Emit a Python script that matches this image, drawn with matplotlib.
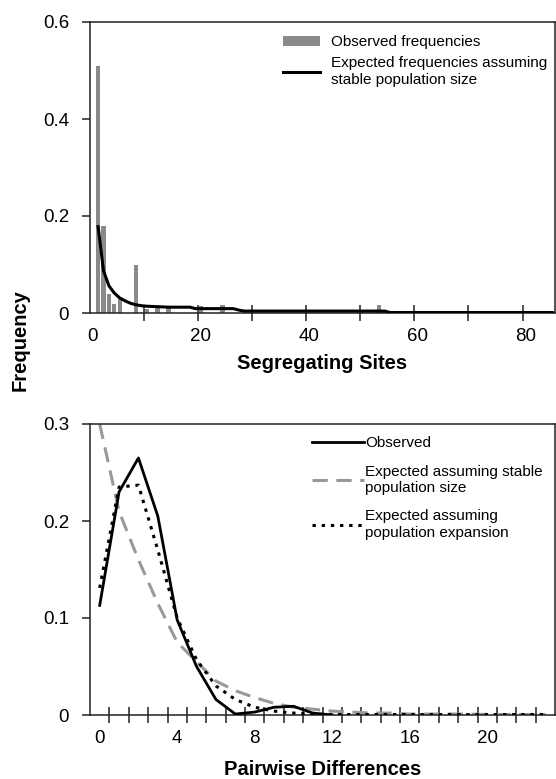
import numpy as np
import matplotlib
matplotlib.use("Agg")
import matplotlib.pyplot as plt
from matplotlib.ticker import FixedLocator, FixedFormatter

plt.rcParams['font.family'] = ['Liberation Sans', 'DejaVu Sans']

# ---------------- data: segregating sites ----------------
seg_obs_x = [1, 2, 3, 4, 5, 8, 10, 12, 14, 20, 24, 53]
seg_obs_y = [0.51, 0.18, 0.04, 0.018, 0.032, 0.10, 0.008, 0.012, 0.012, 0.015, 0.017, 0.017]

seg_exp_x = [1, 2, 3, 4, 5, 6, 7, 8, 9, 10, 12, 14, 16, 18, 19, 26, 27, 28, 54, 55, 85]
seg_exp_y = [0.178, 0.087, 0.056, 0.041, 0.031, 0.025, 0.020, 0.017, 0.015, 0.014,
             0.013, 0.012, 0.012, 0.012, 0.009, 0.009, 0.006, 0.004, 0.004, 0.001, 0.001]

seg_ticklabels = ["0", "20", "40", "60", "80"]

# ---------------- data: pairwise differences ----------------
pw_obs_x = [0, 1, 2, 3, 4, 5, 6, 7, 8, 9, 10, 11, 12]
pw_obs_y = [0.113, 0.230, 0.265, 0.205, 0.098, 0.050, 0.016, 0.001, 0.003, 0.008, 0.009, 0.002, 0.0]

pw_stable_x = list(range(0, 24))
pw_stable_y = [0.300, 0.210, 0.160, 0.115, 0.075, 0.055, 0.035, 0.025, 0.018, 0.012,
               0.008, 0.006, 0.004, 0.003, 0.002, 0.002, 0.001, 0.001, 0.001, 0.001,
               0.0005, 0.0005, 0.0005, 0.0005]

pw_exp_x = list(range(0, 24))
pw_exp_y = [0.131, 0.235, 0.237, 0.170, 0.100, 0.057, 0.030, 0.016, 0.008, 0.004,
            0.002, 0.001, 0.0005, 0.0005, 0.0005, 0.0005, 0.0005, 0.0005, 0.0005,
            0.0005, 0.0005, 0.0005, 0.0005, 0.0005]

pw_ticklabels = ["0", "4", "8", "12", "16", "20"]

# ---------------- figure ----------------
W, H = 556, 779
fig = plt.figure(figsize=(W / 100, H / 100), dpi=100)

def px_axes(left, top, right, bottom):
    return fig.add_axes([left / W, 1 - bottom / H, (right - left) / W, (bottom - top) / H])

ax1 = px_axes(90, 22, 555, 313)
ax2 = px_axes(90, 424, 555, 715)

grey_bar = "#8a8a8a"
grey_line = "#999999"

def style(ax):
    for s in ax.spines.values():
        s.set_linewidth(1.1)
        s.set_color("#222222")
    ax.tick_params(axis='y', direction='out', length=6, width=1.1, pad=9,
                   labelsize=13.5, color="#222222")
    ax.tick_params(axis='x', which='major', length=0, pad=11, labelsize=13.5)
    ax.tick_params(axis='x', which='minor', direction='inout', length=11, width=1.1,
                   color="#222222")

# top panel
ax1.bar(seg_obs_x, seg_obs_y, width=0.8, color=grey_bar, label="Observed frequencies",
        zorder=2)
ax1.plot(seg_exp_x, seg_exp_y, color="black", lw=2.2, solid_joinstyle='round',
         label="Expected frequencies assuming\nstable population size", zorder=3)
ax1.set_xlim(-0.5, 85.5)
ax1.set_ylim(0, 0.6)
ax1.set_yticks([0, 0.2, 0.4, 0.6])
ax1.set_yticklabels(["0", "0.2", "0.4", "0.6"])
ax1.xaxis.set_major_locator(FixedLocator([0, 20, 40, 60, 80]))
ax1.xaxis.set_major_formatter(FixedFormatter(seg_ticklabels))
ax1.xaxis.set_minor_locator(FixedLocator([9.5 + 10 * i for i in range(8)]))
style(ax1)
ax1.set_xlabel("Segregating Sites", fontsize=14.5, fontweight='bold', labelpad=6)
h1, l1 = ax1.get_legend_handles_labels()
ax1.legend([h1[1], h1[0]], [l1[1], l1[0]], loc='upper right',
           bbox_to_anchor=(1.0, 0.98), frameon=False,
           fontsize=11, handlelength=2.4, handleheight=0.55, handletextpad=0.75,
           labelspacing=0.45, borderaxespad=0.1)

# bottom panel
ax2.plot(pw_stable_x, pw_stable_y, color=grey_line, lw=2.2, dashes=(5.0, 2.8),
         label="Expected assuming stable\npopulation size", zorder=2)
ax2.plot(pw_exp_x, pw_exp_y, color="black", lw=2.2, dashes=(1.1, 1.9),
         label="Expected assuming\npopulation expansion", zorder=3)
ax2.plot(pw_obs_x, pw_obs_y, color="black", lw=2.0, label="Observed", zorder=4)
ax2.set_xlim(-0.5, 23.5)
ax2.set_ylim(0, 0.3)
ax2.set_yticks([0, 0.1, 0.2, 0.3])
ax2.set_yticklabels(["0", "0.1", "0.2", "0.3"])
ax2.xaxis.set_major_locator(FixedLocator([0, 4, 8, 12, 16, 20]))
ax2.xaxis.set_major_formatter(FixedFormatter(pw_ticklabels))
ax2.xaxis.set_minor_locator(FixedLocator([0.5 + i for i in range(23)]))
style(ax2)
ax2.set_xlabel("Pairwise Differences", fontsize=14.5, fontweight='bold', labelpad=9)
handles, labels = ax2.get_legend_handles_labels()
order = [2, 0, 1]
ax2.legend([handles[i] for i in order], [labels[i] for i in order],
           loc='upper right', bbox_to_anchor=(1.0, 1.0), frameon=False,
           fontsize=11, handlelength=3.4, handletextpad=0.1,
           labelspacing=0.95, borderaxespad=0.4)

fig.text(0.036, 0.5635, "Frequency", rotation=90, fontsize=14.5, fontweight='bold',
         ha='center', va='center')

fig.savefig("out.png", dpi=100)
